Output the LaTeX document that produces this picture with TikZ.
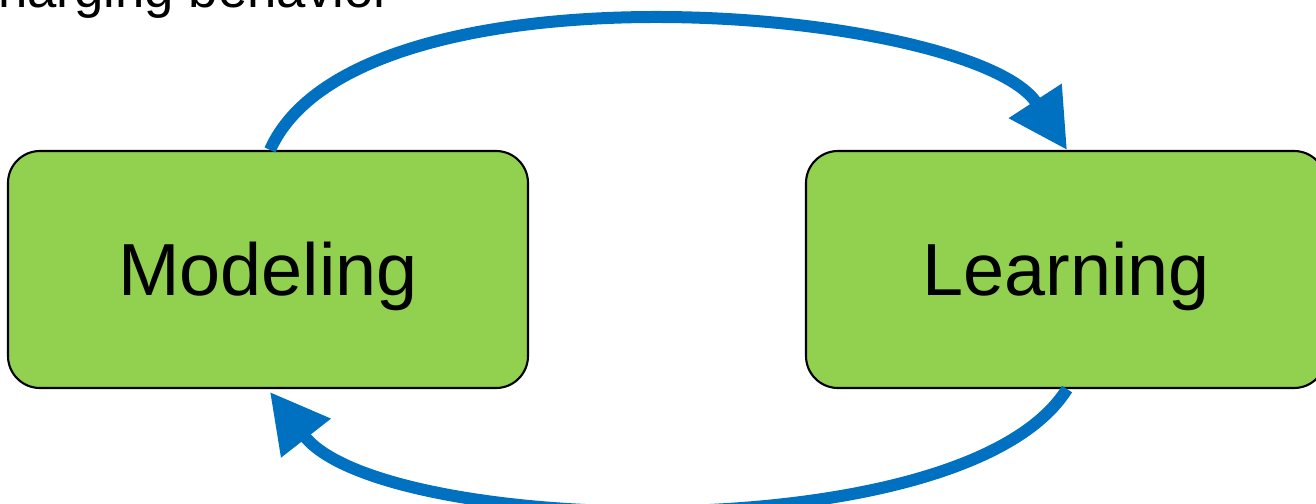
\documentclass[tikz,border=0pt]{standalone}
\usepackage{fontspec}
\setmainfont{Liberation Sans}
\usetikzlibrary{arrows.meta}
\definecolor{boxgreen}{HTML}{92D050}
\definecolor{loopblue}{HTML}{0070C0}
\begin{document}
\begin{tikzpicture}
        \useasboundingbox (0,0) rectangle (26.32,-10.08);
        \tikzstyle{stage} = [rectangle, rounded corners = 0.64cm, draw = black, line width = 1.2pt, fill = boxgreen, minimum width = 10.4cm, minimum height = 4.74cm, inner sep = 0pt, text depth = 0.02cm, font = \fontsize{42}{50}\selectfont]
        \tikzstyle{loop} = [draw = loopblue, line width = 0.24cm, -{Triangle[length = 1.17cm, width = 1.2cm]}]
        \node[anchor = base west, inner sep = 0pt, font = \fontsize{30}{36}\selectfont] (Title) at (-0.04,-0.16) {harging behavior};
        \node[stage] (Modeling) at (5.36,-5.39) {Modeling};
        \node[stage] (Learning) at (21.32,-5.39) {Learning};
        \draw [loop] ([xshift = 0.04cm]Modeling.north) to[out = 66, in = 123, out distance = 4.3cm, in distance = 3.4cm] ([xshift = 0.02cm]Learning.north);
        \draw [loop] ([xshift = 0.02cm]Learning.south) to[out = -122, in = -52, out distance = 3.85cm, in distance = 3.65cm] ([xshift = 0.04cm, yshift = -0.06cm]Modeling.south);

    \end{tikzpicture}
\end{document}
